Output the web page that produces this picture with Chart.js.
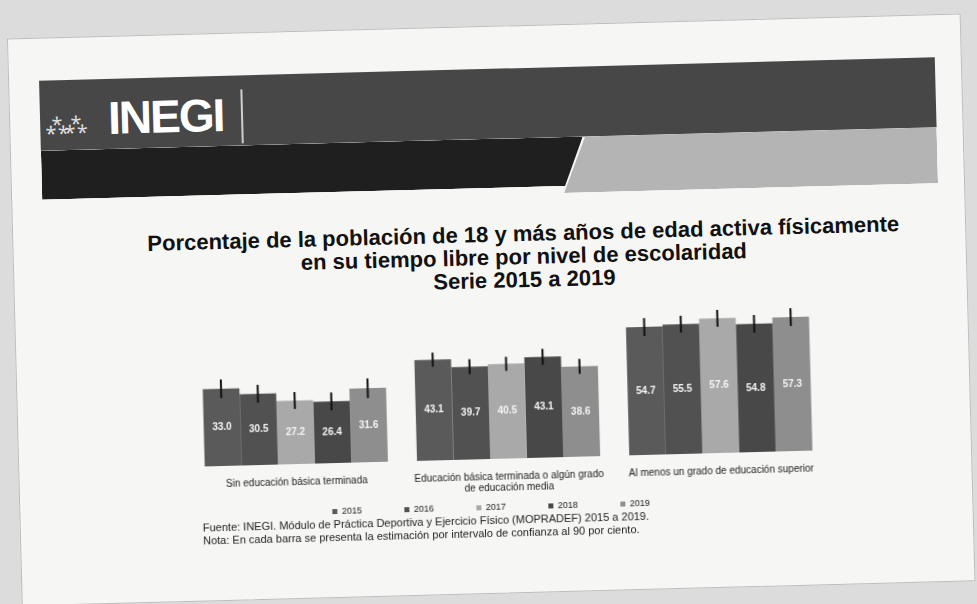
<!DOCTYPE html>
<html>
<head>
<meta charset="utf-8">
<script src="https://cdn.jsdelivr.net/npm/chart.js@4"></script>
<style>
html,body{margin:0;padding:0;width:977px;height:604px;overflow:hidden;background:#dcdcdc;font-family:"Liberation Sans",Arial,sans-serif;}
#slide{position:absolute;left:14px;top:26px;width:952px;height:566px;background:#f6f6f4;border:1px solid #bdbdbd;transform:rotate(-1.5deg);transform-origin:474px 276px;}
#band1{position:absolute;left:30px;top:42px;width:896px;height:70px;background:#474747;}
#band2{position:absolute;left:30px;top:112px;width:542px;height:49px;background:#1f1f1f;clip-path:polygon(0 0,100% 0,96.5% 100%,0 100%);}
#band3{position:absolute;left:552px;top:112px;width:374px;height:56px;background:#b4b4b4;clip-path:polygon(6% 0,100% 0,100% 100%,0 100%);}
#logo{position:absolute;left:98px;top:54px;color:#fff;font-weight:bold;font-size:46px;letter-spacing:-2px;}
#icon{position:absolute;left:36px;top:72px;color:#ddd;font-size:20px;letter-spacing:-3px;}
#sep{position:absolute;left:231px;top:56px;width:2px;height:54px;background:#cfcfcf;}
#title{position:absolute;left:10px;width:1000px;top:196px;text-align:center;font-weight:bold;font-size:22px;line-height:23px;color:#111;}
#cv{position:absolute;left:136px;top:267px;width:700px;height:228px;}
#foot{position:absolute;left:182px;top:487px;font-size:11px;line-height:13px;color:#222;}
</style>
</head>
<body>
<div id="slide">
  <div id="band1"></div>
  <div id="band2"></div>
  <div id="band3"></div>
  <div id="icon">⁂⁂</div>
  <div id="logo">INEGI</div>
  <div id="sep"></div>
  <div id="title">Porcentaje de la población de 18 y más años de edad activa físicamente<br>en su tiempo libre por nivel de escolaridad<br>Serie 2015 a 2019</div>
  <div id="cv"><canvas id="c" width="700" height="228"></canvas></div>
  <div id="foot">Fuente: INEGI. Módulo de Práctica Deportiva y Ejercicio Físico (MOPRADEF) 2015 a 2019.<br>Nota: En cada barra se presenta la estimación por intervalo de confianza al 90 por ciento.</div>
</div>
<script>
const categories = [
  "Sin educación básica terminada",
  ["Educación básica terminada o algún grado", "de educación media"],
  "Al menos un grado de educación superior"
];
const years = ["2015", "2016", "2017", "2018", "2019"];
const v2015 = [33.0, 43.1, 54.7];
const v2016 = [30.5, 39.7, 55.5];
const v2017 = [27.2, 40.5, 57.6];
const v2018 = [26.4, 43.1, 54.8];
const v2019 = [31.6, 38.6, 57.3];
const e2015 = [4.0, 3.0, 3.8];
const e2016 = [3.8, 3.2, 3.6];
const e2017 = [3.6, 3.0, 3.6];
const e2018 = [3.8, 3.4, 3.8];
const e2019 = [4.2, 3.2, 3.8];

const values = [v2015, v2016, v2017, v2018, v2019];
const errors = [e2015, e2016, e2017, e2018, e2019];
const colors = ["#5a5a5a", "#515151", "#a9a9a9", "#484848", "#8e8e8e"];
const FONT = "'Liberation Sans', Arial, sans-serif";

const errPlugin = {
  id: "errbars",
  afterDatasetsDraw(chart) {
    const ctx = chart.ctx, ys = chart.scales.y;
    chart.data.datasets.forEach((ds, di) => {
      const meta = chart.getDatasetMeta(di);
      meta.data.forEach((bar, i) => {
        const v = ds.data[i], e = errors[di][i];
        const y1 = ys.getPixelForValue(v + e), y2 = ys.getPixelForValue(v - e);
        ctx.save();
        ctx.strokeStyle = "#111";
        ctx.lineWidth = 2;
        ctx.beginPath();
        ctx.moveTo(bar.x, y1); ctx.lineTo(bar.x, y2);
        ctx.stroke();
        ctx.fillStyle = "#f4f4f4";
        ctx.font = "bold 10px " + FONT;
        ctx.textAlign = "center"; ctx.textBaseline = "middle";
        ctx.fillText(v.toFixed(1), bar.x, (bar.y + bar.base) / 2);
        ctx.restore();
      });
    });
  }
};

new Chart(document.getElementById("c"), {
  type: "bar",
  data: {
    labels: categories,
    datasets: years.map((y, i) => ({
      label: y,
      data: values[i],
      backgroundColor: colors[i],
      borderWidth: 0,
      barPercentage: 1.0,
      categoryPercentage: 0.863
    }))
  },
  options: {
    responsive: false,
    animation: false,
    layout: { padding: { left: 35, right: 28, top: 6, bottom: 0 } },
    plugins: {
      legend: {
        position: "bottom",
        labels: {
          boxWidth: 5, boxHeight: 5, padding: 5, color: "#222",
          font: { size: 9, family: FONT },
          generateLabels(chart) {
            const items = Chart.defaults.plugins.legend.labels.generateLabels(chart);
            items.forEach(it => { it.text = it.text + "               "; });
            return items;
          }
        }
      },
      tooltip: { enabled: false }
    },
    scales: {
      x: {
        grid: { display: false, drawTicks: false },
        border: { display: false },
        ticks: { color: "#222", padding: 13, maxRotation: 0, autoSkip: false, font: { size: 10, family: FONT, lineHeight: 1.1 } },
        afterFit(scale) { scale.height -= 9; }
      },
      y: {
        display: false,
        min: 0, max: 68
      }
    }
  },
  plugins: [errPlugin]
});
</script>
</body>
</html>
